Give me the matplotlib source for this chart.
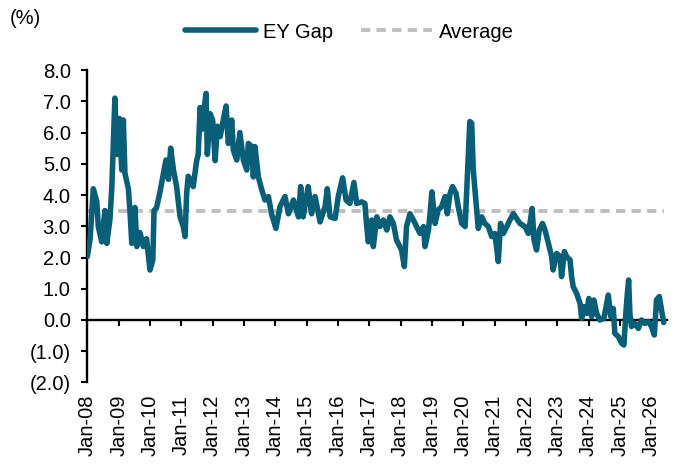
import numpy as np
import matplotlib
matplotlib.use("Agg")
import matplotlib.pyplot as plt
from matplotlib.ticker import FuncFormatter

plt.rcParams['font.family'] = ['Liberation Sans', 'DejaVu Sans']

# EY gap (%), x in decimal years
years = [2008.00, 2008.09, 2008.19, 2008.30, 2008.35, 2008.46, 2008.56, 2008.62, 2008.72, 2008.78,
         2008.83, 2008.88, 2008.94, 2009.02, 2009.10, 2009.15, 2009.20, 2009.31, 2009.36, 2009.42,
         2009.52, 2009.58, 2009.68, 2009.79, 2009.89, 2010.00, 2010.09, 2010.13, 2010.21, 2010.32,
         2010.43, 2010.51, 2010.59, 2010.66, 2010.75, 2010.85, 2010.96, 2011.06, 2011.12, 2011.17,
         2011.22, 2011.28, 2011.38, 2011.49, 2011.54, 2011.60, 2011.65, 2011.72, 2011.79, 2011.83,
         2011.92, 2012.00, 2012.08, 2012.15, 2012.24, 2012.34, 2012.43, 2012.50, 2012.61, 2012.66,
         2012.77, 2012.87, 2012.98, 2013.09, 2013.14, 2013.25, 2013.30, 2013.35, 2013.46, 2013.57,
         2013.67, 2013.78, 2013.88, 2014.02, 2014.15, 2014.31, 2014.42, 2014.58, 2014.74, 2014.81,
         2014.89, 2015.05, 2015.16, 2015.27, 2015.43, 2015.59, 2015.66, 2015.75, 2015.91, 2016.01,
         2016.15, 2016.26, 2016.38, 2016.51, 2016.60, 2016.76, 2016.86, 2016.92, 2016.97, 2017.08,
         2017.13, 2017.24, 2017.34, 2017.45, 2017.56, 2017.66, 2017.77, 2017.87, 2018.03, 2018.12,
         2018.19, 2018.30, 2018.41, 2018.51, 2018.62, 2018.73, 2018.78, 2018.89, 2018.94, 2019.00,
         2019.10, 2019.20, 2019.31, 2019.42, 2019.49, 2019.58, 2019.66, 2019.77, 2019.84, 2019.95,
         2020.06, 2020.13, 2020.21, 2020.27, 2020.32, 2020.41, 2020.48, 2020.59, 2020.69, 2020.80,
         2020.91, 2021.01, 2021.12, 2021.19, 2021.28, 2021.39, 2021.49, 2021.60, 2021.70, 2021.81,
         2021.97, 2022.08, 2022.13, 2022.20, 2022.26, 2022.34, 2022.43, 2022.53, 2022.61, 2022.72,
         2022.82, 2022.87, 2022.98, 2023.09, 2023.14, 2023.23, 2023.30, 2023.41, 2023.46, 2023.51,
         2023.62, 2023.73, 2023.78, 2023.85, 2023.94, 2024.01, 2024.10, 2024.17, 2024.26, 2024.36,
         2024.49, 2024.56, 2024.63, 2024.71, 2024.79, 2024.84, 2024.95, 2025.06, 2025.13, 2025.19,
         2025.24, 2025.28, 2025.32, 2025.37, 2025.48, 2025.59, 2025.69, 2025.80, 2025.91, 2026.01,
         2026.10, 2026.17, 2026.26, 2026.33, 2026.40]
ey_gap = [2.03, 2.60, 4.20, 3.80, 2.99, 2.50, 3.50, 2.45, 3.20, 4.20,
          5.65, 7.10, 5.30, 6.45, 4.80, 6.40, 4.70, 4.20, 3.50, 2.45,
          3.60, 2.35, 2.80, 2.35, 2.60, 1.60, 1.92, 3.50, 3.60, 4.10,
          4.70, 5.12, 4.50, 5.50, 4.80, 4.27, 3.30, 3.00, 2.67, 4.05,
          4.60, 4.50, 4.27, 5.10, 5.30, 6.80, 6.10, 6.70, 7.25, 5.30,
          6.60, 6.40, 5.10, 6.20, 5.87, 6.40, 6.85, 5.65, 6.40, 5.44,
          5.12, 6.00, 5.12, 4.80, 5.65, 5.55, 4.58, 5.55, 4.58, 4.16,
          3.84, 3.95, 3.40, 2.93, 3.63, 3.95, 3.40, 3.84, 3.30, 4.27,
          3.30, 4.27, 3.40, 3.95, 3.14, 3.63, 4.20, 3.30, 3.25, 3.95,
          4.55, 3.84, 3.73, 4.40, 3.73, 3.78, 3.73, 2.99, 2.50, 3.20,
          2.35, 3.30, 2.99, 3.20, 2.88, 3.30, 3.09, 2.56, 2.24, 1.71,
          2.99, 3.40, 3.20, 2.99, 2.77, 2.99, 2.35, 2.88, 3.40, 4.10,
          3.09, 3.52, 3.63, 3.95, 3.40, 4.05, 4.27, 4.05, 3.63, 3.09,
          2.99, 4.58, 6.35, 6.30, 4.80, 3.73, 2.93, 3.30, 3.09, 2.99,
          2.67, 2.77, 1.87, 3.09, 2.77, 2.99, 3.20, 3.40, 3.25, 3.09,
          2.99, 2.77, 3.09, 3.57, 2.56, 2.24, 2.88, 3.09, 2.88, 2.45,
          2.03, 1.60, 2.13, 2.03, 1.39, 2.19, 2.03, 1.92, 1.39, 1.07,
          0.85, 0.53, 0.05, 0.43, 0.21, 0.69, 0.11, 0.64, 0.21, 0.00,
          0.05, 0.43, 0.80, 0.11, 0.37, -0.43, -0.53, -0.75, -0.80, 0.21,
          0.85, 1.28, 0.21, -0.21, -0.11, -0.27, 0.00, -0.11, -0.05, -0.21,
          -0.48, 0.64, 0.75, 0.32, -0.08]
average = 3.5
tick_years = list(range(2008, 2027))
tick_labels = ['Jan-%02d' % (y % 100) for y in tick_years]

line_color = '#0a5f78'
avg_color = '#bfbfbf'
fs = 14.5

fig = plt.figure(figsize=(6.77, 4.68), dpi=100)
ax = fig.add_axes([0.129, 0.1827, 0.856, 0.6677])

ax.plot([years[0], years[-1]], [average, average], color=avg_color, lw=2.8,
        linestyle=(0, (2.4, 1.6)), label='Average', zorder=2)
ax.plot(years, ey_gap, color=line_color, lw=4.0, solid_joinstyle='round',
        solid_capstyle='round', label='EY Gap', zorder=3)

ax.set_xlim(2008, 2026.5)
ax.set_ylim(-2, 8)
ax.set_yticks(np.arange(-2, 9, 1))
ax.yaxis.set_major_formatter(FuncFormatter(
    lambda v, p: '(%.1f)' % abs(v) if v < 0 else '%.1f' % v))

for s in ['top', 'right']:
    ax.spines[s].set_visible(False)
ax.spines['bottom'].set_position(('data', 0))
ax.spines['left'].set_bounds(-2, 8)
for s in ['bottom', 'left']:
    ax.spines[s].set_linewidth(1.7)

ax.set_xticks(tick_years)
ax.tick_params(axis='x', direction='out', length=4, width=1.5, labelbottom=False)
ax.tick_params(axis='y', direction='out', length=4, width=1.5, pad=8,
               labelsize=fs, colors='black')

sec = ax.secondary_xaxis('bottom')
sec.set_xticks(tick_years)
sec.set_xticklabels(tick_labels, rotation=90, fontsize=fs)
sec.tick_params(length=0, pad=9)
sec.spines['bottom'].set_visible(False)

handles, labels = ax.get_legend_handles_labels()
fig.legend(handles[::-1], labels[::-1], loc='center', bbox_to_anchor=(0.516, 1 - 32 / 468),
           ncol=2, frameon=False, fontsize=fs, handlelength=3.5, columnspacing=1.4,
           handletextpad=0.35)
fig.text(0.015, 1 - 18 / 468, '(%)', fontsize=fs, va='center', ha='left')

fig.savefig('out.png', dpi=100)
